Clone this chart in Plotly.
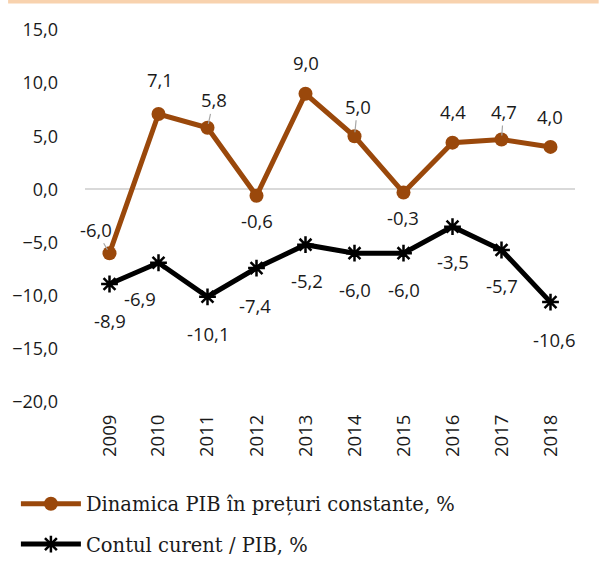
import plotly.graph_objects as go

years = ["2009", "2010", "2011", "2012", "2013", "2014", "2015", "2016", "2017", "2018"]
pib = [-6.0, 7.1, 5.8, -0.6, 9.0, 5.0, -0.3, 4.4, 4.7, 4.0]
cont = [-8.9, -6.9, -10.1, -7.4, -5.2, -6.0, -6.0, -3.5, -5.7, -10.6]
name_pib = "Dinamica PIB în prețuri constante, %"
name_cont = "Contul curent / PIB, %"

ORANGE = "#9a480b"
FONT = "Open Sans"

def fmt(v):
    return f"{v:.1f}".replace(".", ",")

fig = go.Figure()
fig.add_trace(go.Scatter(
    x=list(range(len(years))), y=pib, name=name_pib, mode="lines+markers",
    line=dict(color=ORANGE, width=5), marker=dict(symbol="circle", size=14, color=ORANGE),
    legendgroup="a"))
fig.add_trace(go.Scatter(
    x=list(range(len(years))), y=cont, name=name_cont, mode="lines+markers",
    line=dict(color="black", width=5),
    marker=dict(symbol="asterisk-open", size=14, color="black", line=dict(color="black", width=2.5)),
    legendgroup="b"))

# label offsets in pixels (dx, dy) relative to point; leader = True draws a small gray line
pib_off = [(-14, -24, True), (1, -34, False), (6, -28, True), (0, 25, False), (0, -31, False),
           (3, -30, True), (-1, 25, False), (0, -31, False), (2, -28, True), (-1, -30, False)]
cont_off = [(0, 36, False), (-19, 36, False), (0, 37, False), (-2, 37, False), (1, 36, False),
            (0, 36, False), (0, 36, False), (0, 35, False), (0, 35, False), (3, 37, False)]

LBL = dict(family=FONT, size=18.5, color="#1a1a1a")
annotations = []
for i, v in enumerate(pib):
    dx, dy, lead = pib_off[i]
    if lead:
        annotations.append(dict(x=i, y=v, text=fmt(v), showarrow=True, ax=dx, ay=dy,
                                arrowhead=0, arrowwidth=1.2, arrowcolor="#a6a6a6", standoff=4,
                                font=LBL))
    else:
        annotations.append(dict(x=i, y=v, text=fmt(v), showarrow=False, xshift=dx, yshift=-dy,
                                font=LBL))
for i, v in enumerate(cont):
    dx, dy, lead = cont_off[i]
    annotations.append(dict(x=i, y=v, text=fmt(v), showarrow=False, xshift=dx, yshift=-dy,
                            font=LBL))

fig.update_layout(
    width=599, height=576,
    margin=dict(l=78, r=24, t=30, b=173),
    paper_bgcolor="white", plot_bgcolor="white",
    separators=", ",
    showlegend=True,
    legend=dict(orientation="v", x=-0.141, xanchor="left", y=-0.222, yanchor="top",
                font=dict(family="DejaVu Serif", size=19.5, color="#1a1a1a"),
                tracegroupgap=12, itemwidth=60, bgcolor="rgba(0,0,0,0)"),
    annotations=annotations,
    shapes=[dict(type="rect", xref="paper", yref="paper",
                 x0=-78/497, x1=1 + 24/497, y0=1 + 26.5/373, y1=1 + 30.5/373,
                 fillcolor="#f8d2ae", line=dict(width=0), layer="above")],
)
fig.update_xaxes(range=[-0.5, 9.5], tickmode="array", tickvals=list(range(len(years))),
                 ticktext=years, tickangle=-90, showgrid=False, zeroline=False, showline=False,
                 ticks="", ticklabelstandoff=8, tickfont=dict(family=FONT, size=18.5, color="#1a1a1a"))
fig.update_yaxes(range=[-20, 15], dtick=5, tick0=0, tickformat=".1f", showgrid=False,
                 zeroline=True, zerolinecolor="#d9d9d9", zerolinewidth=1.5, showline=False,
                 ticks="", ticklabelstandoff=26,
                 tickfont=dict(family=FONT, size=18, color="#1a1a1a"))

fig.write_html("out.html", config={"displayModeBar": False},
               post_script="document.body.style.margin='0';")
